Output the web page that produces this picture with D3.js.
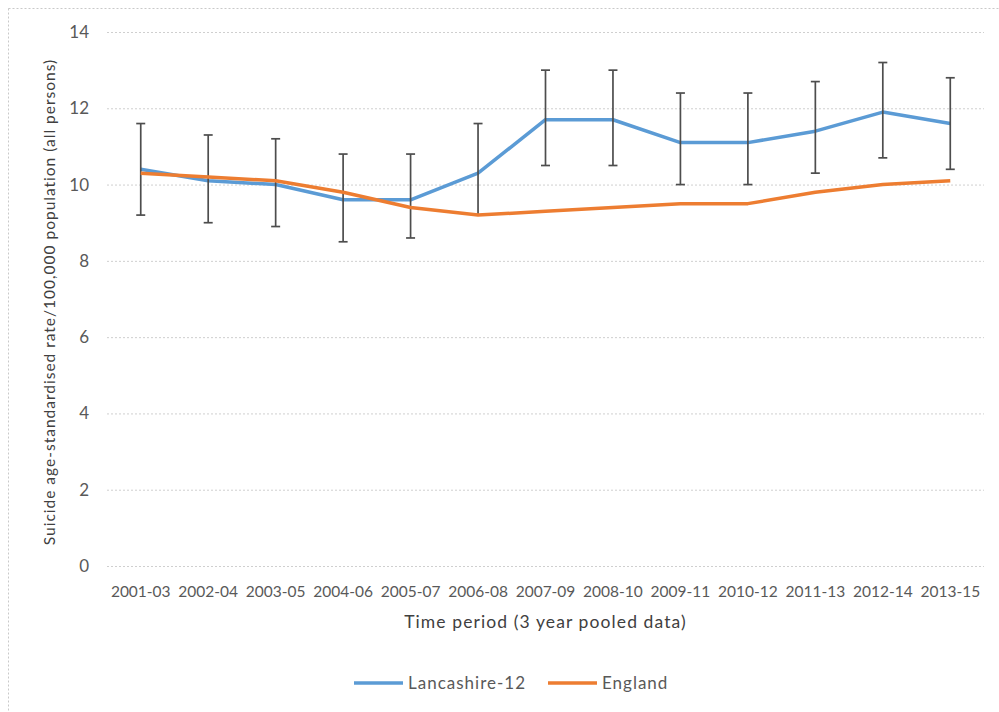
<!DOCTYPE html>
<html>
<head>
<meta charset="utf-8">
<script src="https://cdn.jsdelivr.net/npm/d3@7"></script>
<style>
  body { margin: 0; background: #fff; }
  text { font-family: Lato, "Open Sans", sans-serif; }
</style>
</head>
<body>
<div id="chart"></div>
<script>
// periods on the x axis
const periods = ["2001-03","2002-04","2003-05","2004-06","2005-07","2006-08","2007-09",
  "2008-10","2009-11","2010-12","2011-13","2012-14","2013-15"];
// Lancashire-12 rate and 95% CI
const lancashire = [10.4, 10.1, 10.0, 9.6, 9.6, 10.3, 11.7, 11.7, 11.1, 11.1, 11.4, 11.9, 11.6];
const lancLower  = [9.2, 9.0, 8.9, 8.5, 8.6, 9.2, 10.5, 10.5, 10.0, 10.0, 10.3, 10.7, 10.4];
const lancUpper  = [11.6, 11.3, 11.2, 10.8, 10.8, 11.6, 13.0, 13.0, 12.4, 12.4, 12.7, 13.2, 12.8];
// England rate
const england = [10.3, 10.2, 10.1, 9.8, 9.4, 9.2, 9.3, 9.4, 9.5, 9.5, 9.8, 10.0, 10.1];
const yTicks = [0, 2, 4, 6, 8, 10, 12, 14];

const width = 999, height = 712;
const margin = { top: 32, right: 15, bottom: 146, left: 107 };

const svg = d3.select("#chart").append("svg")
  .attr("width", width)
  .attr("height", height);

// dotted chart-area border (only top and left visible)
svg.append("rect")
  .attr("x", 8.5).attr("y", 8.5)
  .attr("width", width + 20).attr("height", height + 20)
  .attr("fill", "none")
  .attr("stroke", "#c9c9c9")
  .attr("stroke-dasharray", "2,2");

const x = d3.scaleBand().domain(periods).range([margin.left, width - margin.right]);
const y = d3.scaleLinear().domain([0, 14]).range([height - margin.bottom, margin.top]);
const cx = d => x(d) + x.bandwidth() / 2;

// gridlines
svg.append("g")
  .attr("transform", `translate(${margin.left},0)`)
  .call(d3.axisLeft(y).tickValues(yTicks).tickSize(-(width - margin.right - margin.left)).tickFormat(""))
  .call(g => g.select(".domain").remove())
  .call(g => g.selectAll("line")
    .attr("stroke", "#cfcfcf")
    .attr("stroke-dasharray", "2,2"));

// y axis labels
svg.append("g")
  .attr("transform", `translate(${margin.left},0)`)
  .call(d3.axisLeft(y).tickValues(yTicks).tickSize(0).tickPadding(18))
  .call(g => g.select(".domain").remove())
  .call(g => g.selectAll("text")
    .attr("fill", "#595959")
    .style("font-size", "17px"));

// x axis labels
svg.append("g")
  .attr("transform", `translate(0,${height - margin.bottom})`)
  .call(d3.axisBottom(x).tickSize(0).tickPadding(20))
  .call(g => g.select(".domain").remove())
  .call(g => g.selectAll("text")
    .attr("fill", "#595959")
    .style("font-size", "15.5px"));

// axis titles
svg.append("text")
  .attr("x", (margin.left + width - margin.right) / 2)
  .attr("y", 628)
  .attr("text-anchor", "middle")
  .attr("fill", "#404040")
  .style("font-size", "17.5px")
  .style("letter-spacing", "1.1px")
  .text("Time period (3 year pooled data)");

svg.append("text")
  .attr("transform", "translate(55,302) rotate(-90)")
  .attr("text-anchor", "middle")
  .attr("fill", "#404040")
  .style("font-size", "15.5px")
  .style("letter-spacing", "1px")
  .text("Suicide age-standardised rate/100,000 population (all persons)");

const line = d3.line()
  .x((d, i) => cx(periods[i]))
  .y(d => y(d));

// Lancashire line
svg.append("path")
  .datum(lancashire)
  .attr("fill", "none")
  .attr("stroke", "#5B9BD5")
  .attr("stroke-width", 3.5)
  .attr("stroke-linejoin", "round")
  .attr("d", line);

// error bars
const bars = svg.append("g").attr("stroke", "#4d4d4d").attr("stroke-width", 1.7);
periods.forEach((p, i) => {
  const xc = cx(p);
  bars.append("line").attr("x1", xc).attr("x2", xc).attr("y1", y(lancLower[i])).attr("y2", y(lancUpper[i]));
  bars.append("line").attr("x1", xc - 4.5).attr("x2", xc + 4.5).attr("y1", y(lancLower[i])).attr("y2", y(lancLower[i]));
  bars.append("line").attr("x1", xc - 4.5).attr("x2", xc + 4.5).attr("y1", y(lancUpper[i])).attr("y2", y(lancUpper[i]));
});

// England line
svg.append("path")
  .datum(england)
  .attr("fill", "none")
  .attr("stroke", "#ED7D31")
  .attr("stroke-width", 3.5)
  .attr("stroke-linejoin", "round")
  .attr("d", line);

// legend
const legendItems = [
  { name: "Lancashire-12", color: "#5B9BD5", x: 354 },
  { name: "England", color: "#ED7D31", x: 548 }
];
const legend = svg.append("g");
legendItems.forEach(item => {
  legend.append("line")
    .attr("x1", item.x).attr("x2", item.x + 49)
    .attr("y1", 683).attr("y2", 683)
    .attr("stroke", item.color)
    .attr("stroke-width", 3.5);
  legend.append("text")
    .attr("x", item.x + 54)
    .attr("y", 683)
    .attr("dy", "0.35em")
    .attr("fill", "#595959")
    .style("font-size", "17px")
    .style("letter-spacing", "1px")
    .text(item.name);
});
</script>
</body>
</html>
